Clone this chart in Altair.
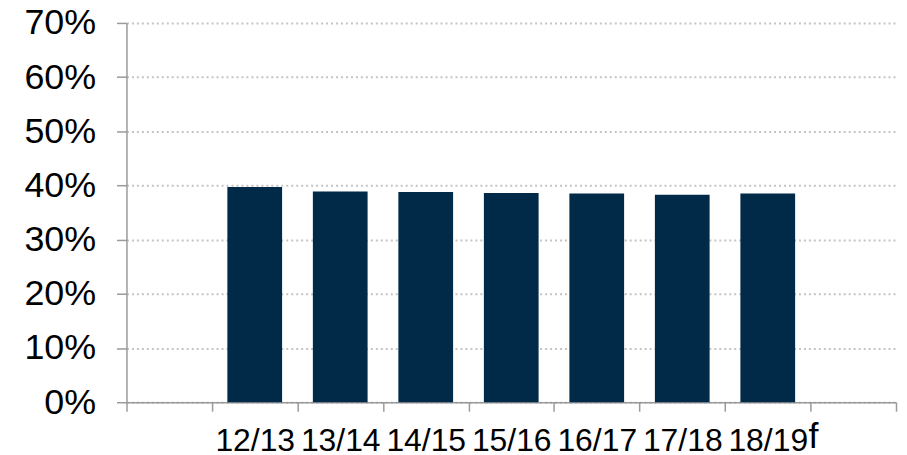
import altair as alt
import pandas as pd

categories = ["12/13", "13/14", "14/15", "15/16", "16/17", "17/18", "18/19"]
values = [0.397, 0.389, 0.388, 0.386, 0.385, 0.383, 0.385]
# empty slots before and after the bars, as in the reference axis
domain = [" "] + categories + ["  "]
suffix_cat = ["18/19"]
suffix_txt = ["f"]

df = pd.DataFrame({"cat": categories, "val": values})
df_f = pd.DataFrame({"cat": suffix_cat, "t": suffix_txt})

FONT = "Liberation Sans"

x_enc = alt.X(
    "cat:N",
    scale=alt.Scale(domain=domain, paddingInner=0, paddingOuter=0),
    sort=domain,
    axis=alt.Axis(
        title=None,
        labelAngle=0,
        labelFontSize=32,
        labelFont=FONT,
        labelColor="#000000",
        labelPadding=14,
        tickBand="extent",
        tickSize=9,
        tickColor="#9a9a9a",
        tickWidth=1.5,
        domainColor="#9a9a9a",
        domainWidth=1.5,
        grid=False,
        labelOverlap=False,
    ),
)

bars = alt.Chart(df).mark_bar(color="#002A48", width=alt.RelativeBandSize(0.64)).encode(
    x=x_enc,
    y=alt.Y(
        "val:Q",
        scale=alt.Scale(domain=[0, 0.7], nice=False),
        axis=alt.Axis(
            title=None,
            format=".0%",
            values=[0, 0.1, 0.2, 0.3, 0.4, 0.5, 0.6, 0.7],
            labelFontSize=36,
            labelFont=FONT,
            labelColor="#000000",
            labelPadding=21,
            tickSize=10,
            tickColor="#9a9a9a",
            tickWidth=1.5,
            domainColor="#9a9a9a",
            domainWidth=1.5,
            grid=True,
            gridColor="#c4c4c4",
            gridWidth=2,
            gridDash=[2, 3],
        ),
    ),
)

suffix = alt.Chart(df_f).mark_text(
    align="left", baseline="alphabetic", fontSize=36, font=FONT, color="#000000", dx=41
).encode(
    x=alt.X("cat:N", scale=alt.Scale(domain=domain), sort=domain),
    y=alt.value(427),
    text="t:N",
)

chart = (
    alt.layer(bars, suffix)
    .properties(
        width=773,
        height=381,
        autosize=alt.AutoSizeParams(type="none"),
        padding={"left": 119, "top": 14, "right": 3, "bottom": 52},
    )
    .configure_view(stroke=None)
)

chart.save("out.html", embed_options={"renderer": "svg", "actions": False})
